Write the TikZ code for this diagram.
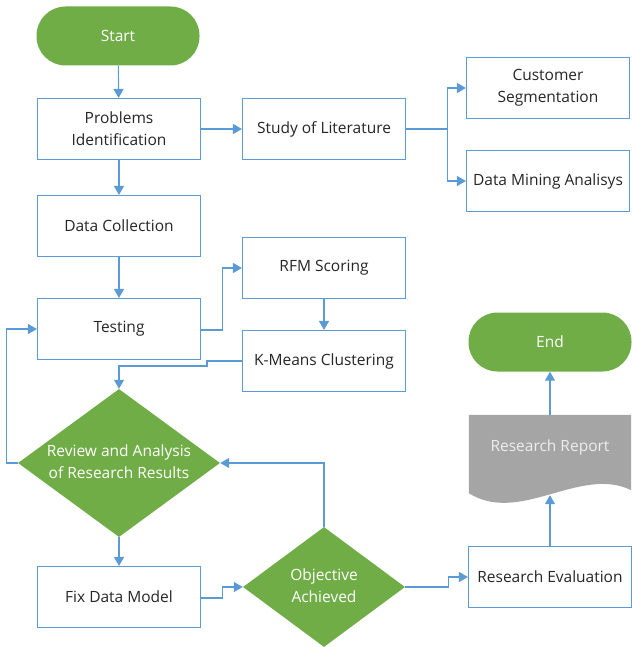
\documentclass[tikz,border=0pt]{standalone}
\usepackage{fontspec}
\setmainfont{Open Sans}
\usetikzlibrary{shapes.geometric,arrows.meta,backgrounds}
\definecolor{flowgreen}{HTML}{70AD47}
\definecolor{flowblue}{HTML}{5B9BD5}
\definecolor{flowgray}{HTML}{A5A5A5}
\definecolor{flowtext}{HTML}{262626}
% text of a fixed-size diamond, kept out of its size
\newcommand{\diamondtext}[1]{\smash{\makebox[0pt]{\begin{tabular}{@{}c@{}}#1\end{tabular}}}}
\begin{document}
\begin{tikzpicture}[x=1pt,y=-1pt,
        font=\fontsize{15.5}{22}\selectfont,
        processbox/.style={draw=flowblue, line width=1.1pt, fill=white, text=flowtext,
            minimum width=163pt, minimum height=61pt, inner sep=2pt, align=center},
        terminal/.style={fill=flowgreen, text=white, rounded corners=29pt,
            minimum width=163pt, minimum height=59pt},
        decision/.style={diamond, fill=flowgreen, text=white, inner sep=0pt},
        flow/.style={draw=flowblue, line width=1.1pt, -{Triangle[length=9pt,width=10pt]}}]
        \useasboundingbox (0,0) rectangle (631,647);
        % left column
        \node (start) at (118,36) [terminal] {Start};
        \node (problem) at (119,129) [processbox] {Problems\\Identification};
        \node (collect) at (119,226) [processbox] {Data Collection};
        \node (testing) at (119,329) [processbox] {Testing};
        \node (review) at (119,463) [decision, minimum width=202pt, minimum height=148pt]
            {\raisebox{-7pt}{\diamondtext{Review and Analysis\\of Research Results}}};
        \node (fixmodel) at (119,597) [processbox] {Fix Data Model};
        % middle column
        \node (literature) at (324,129) [processbox] {Study of Literature};
        \node (rfm) at (324,268) [processbox] {RFM Scoring};
        \node (kmeans) at (324,361) [processbox] {K-Means Clustering};
        \node (objective) at (324,587) [decision, minimum width=162pt, minimum height=120pt]
            {\raisebox{-7pt}{\diamondtext{Objective\\Achieved}}};
        % right column
        \node (segment) at (548,88) [processbox] {Customer\\Segmentation};
        \node (mining) at (548,181) [processbox] {Data Mining Analisys};
        \node (finish) at (550,342) [terminal] {End};
        \node (report) at (550,455) [minimum width=162pt, minimum height=80pt, inner sep=0pt,
            text=white!93!black, text height=11pt, text depth=19pt] {Research Report};
        \begin{scope}[on background layer]
            \fill[flowgray] (report.north west) -- (report.north east) -- ([yshift=5pt]report.south east)
                .. controls +(-51,-25) and +(51,32) .. ([yshift=2pt]report.south west) -- cycle;
        \end{scope}
        \node (evaluation) at (550,577) [processbox] {Research Evaluation};
        % connectors
        \draw[flow] (start) -- (problem);
        \draw[flow] (problem) -- (literature);
        \draw[flow] (literature.east) -- ++(41,0) |- (segment.west);
        \draw[flow] (literature.east) -- ++(41,0) |- (mining.west);
        \draw[flow] (problem) -- (collect);
        \draw[flow] (collect) -- (testing);
        \draw[flow] ([yshift=-1pt]testing.east) -- ++(21,0) |- (rfm.west);
        \draw[flow] (rfm) -- (kmeans);
        \draw[flow] (kmeans.west) -- ++(-35,0) -- ++(0,5) -| (review.north);
        \draw[flow] (review.west) -- ++(-11,0) |- (testing.west);
        \draw[flow] (review) -- (fixmodel);
        \draw[flow] ([yshift=-1pt]fixmodel.east) -- ++(21,0) |- (objective.west);
        \draw[flow] (objective.north) |- (review.east);
        \draw[flow] (objective.east) -- ++(43,0) |- (evaluation.west);
        \draw[flow] (evaluation.north) -- (report.south);
        \draw[flow] (report.north) -- (finish.south);
\end{tikzpicture}
\end{document}
